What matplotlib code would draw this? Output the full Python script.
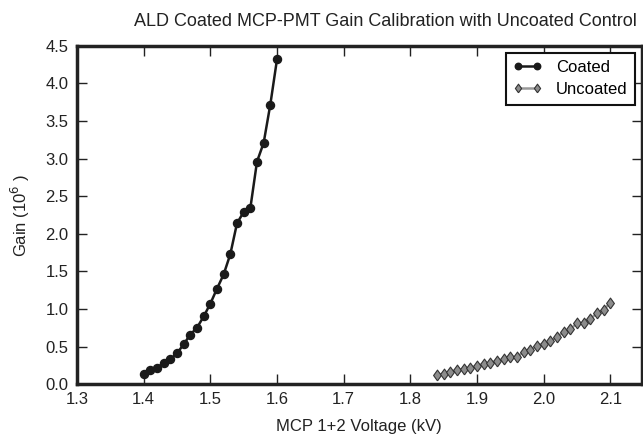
import matplotlib
matplotlib.use("Agg")
import matplotlib.pyplot as plt

plt.rcParams['font.family'] = ['Liberation Sans', 'DejaVu Sans']

# coated MCP-PMT
coated_kv = [1.40, 1.41, 1.42, 1.43, 1.44, 1.45, 1.46, 1.47, 1.48, 1.49, 1.50,
             1.51, 1.52, 1.53, 1.54, 1.55, 1.56, 1.57, 1.58, 1.59, 1.60]
coated_gain = [0.14, 0.19, 0.22, 0.28, 0.33, 0.41, 0.53, 0.66, 0.75, 0.90, 1.07,
               1.27, 1.46, 1.73, 2.14, 2.29, 2.34, 2.96, 3.21, 3.72, 4.32]

# uncoated control
uncoated_kv = [1.84, 1.85, 1.86, 1.87, 1.88, 1.89, 1.90, 1.91, 1.92, 1.93, 1.94,
               1.95, 1.96, 1.97, 1.98, 1.99, 2.00, 2.01, 2.02, 2.03, 2.04, 2.05,
               2.06, 2.07, 2.08, 2.09, 2.10]
uncoated_gain = [0.12, 0.14, 0.16, 0.19, 0.20, 0.22, 0.24, 0.27, 0.28, 0.31, 0.33,
                 0.36, 0.36, 0.43, 0.46, 0.51, 0.54, 0.57, 0.63, 0.69, 0.73, 0.81,
                 0.81, 0.87, 0.94, 0.99, 1.08]

xticks = [1.3, 1.4, 1.5, 1.6, 1.7, 1.8, 1.9, 2.0, 2.1]
yticks = [0.0, 0.5, 1.0, 1.5, 2.0, 2.5, 3.0, 3.5, 4.0, 4.5]

# diamond a bit wider than matplotlib's thin diamond
diamond = [(0, -1), (0.72, 0), (0, 1), (-0.72, 0), (0, -1)]

fig = plt.figure(figsize=(6.43, 4.37), dpi=100)
ax = fig.add_axes([0.1198, 0.121, 0.878, 0.774])

ax.plot(coated_kv, coated_gain, color='#1a1a1a', lw=1.8, marker='o', ms=5.8,
        mfc='#1a1a1a', mec='#1a1a1a', label='Coated')
ax.plot(uncoated_kv, uncoated_gain, color='#999999', lw=1.8, marker=diamond, ms=7.8,
        mfc='#8c8c8c', mec='#333333', mew=0.8, label='Uncoated')

ax.set_xlim(1.3, 2.147)
ax.set_ylim(0, 4.5)
ax.set_xticks(xticks)
ax.set_yticks(yticks)
ax.set_xticklabels([f'{v:.1f}' for v in xticks])
ax.set_yticklabels([f'{v:.1f}' for v in yticks])
ax.tick_params(direction='in', length=7.5, width=1, top=True, right=True,
               labelsize=12, colors='#222222', pad=6)
for s in ax.spines.values():
    s.set_linewidth(2.5)
    s.set_color('#222222')

ax.set_xlabel('MCP 1+2 Voltage (kV)', fontsize=12, color='#222222', labelpad=8)
ax.set_ylabel(r'Gain (10$^6$ )', fontsize=12, color='#222222', labelpad=10)

fig.text(0.991, 0.95, 'ALD Coated MCP-PMT Gain Calibration with Uncoated Control',
         ha='right', va='center', fontsize=13, color='#222222')

leg = ax.legend(loc='upper right', fontsize=12, frameon=True, fancybox=False,
                numpoints=2, borderpad=0.45, handlelength=1.75, handletextpad=0.8,
                labelspacing=0.42, borderaxespad=0.4, markerscale=0.8)
leg.get_frame().set_edgecolor('#111111')
leg.get_frame().set_linewidth(1.5)
leg.get_frame().set_alpha(1)

fig.savefig('out.png', dpi=100)
